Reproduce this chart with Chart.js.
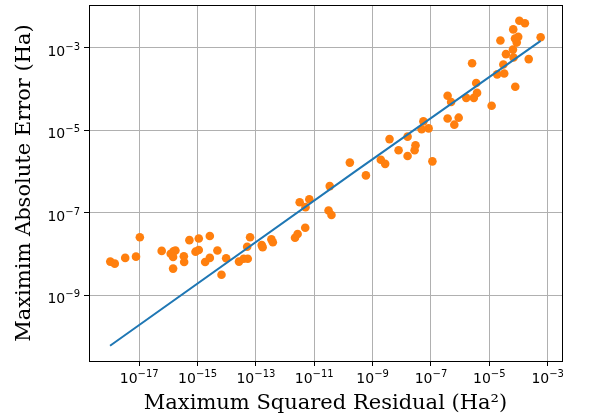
<!DOCTYPE html>
<html>
<head>
<meta charset="utf-8">
<script src="https://cdn.jsdelivr.net/npm/chart.js@4/dist/chart.umd.min.js"></script>
<style>
    html, body { margin: 0; padding: 0; background: #ffffff; }
    #chart { display: block; }
</style>
</head>
<body>
<canvas id="chart" width="589" height="417"></canvas>
<script>
// maximum squared residual (Ha^2) of each run
const residuals = [
    1.02e-18, 1.45e-18, 3.31e-18, 7.76e-18, 1.05e-17, 5.89e-17, 1.20e-16, 1.74e-16, 1.51e-16, 1.45e-16,
    1.45e-16, 3.39e-16, 3.47e-16, 5.25e-16, 1.10e-15, 2.63e-15, 8.51e-16, 1.10e-15, 1.82e-15, 2.63e-15,
    4.79e-15, 6.61e-15, 9.55e-15, 2.63e-14, 3.80e-14, 5.25e-14, 5.01e-14, 6.31e-14, 1.58e-13, 1.70e-13,
    3.39e-13, 3.80e-13, 2.19e-12, 2.69e-12, 4.90e-12, 3.16e-12, 5.01e-12, 6.76e-12, 3.09e-11, 3.89e-11,
    3.39e-11, 1.66e-10, 5.89e-10, 1.91e-9, 2.69e-9, 3.80e-9, 7.76e-9, 1.58e-8, 1.58e-8, 2.95e-8,
    2.75e-8, 5.50e-8, 4.79e-8, 8.32e-8, 1.12e-7, 3.72e-7, 4.90e-7, 1.62e-6, 2.95e-6, 3.80e-6,
    1.20e-5, 3.72e-7, 6.31e-7, 8.91e-7, 3.55e-6, 2.57e-6, 1.86e-5, 3.24e-5, 3.02e-5, 7.76e-5,
    2.24e-4, 6.76e-5, 3.72e-5, 6.46e-5, 2.40e-5, 8.71e-5, 9.77e-5, 7.59e-5, 5.75e-4, 6.61e-5,
    1.07e-4, 1.66e-4
];

// maximum absolute error (Ha) of each run
const errors = [
    6.61e-9, 5.89e-9, 8.13e-9, 8.71e-9, 2.57e-8, 1.20e-8, 1.02e-8, 1.23e-8, 1.17e-8, 8.51e-9,
    4.47e-9, 8.91e-9, 6.46e-9, 2.19e-8, 2.40e-8, 2.75e-8, 1.15e-8, 1.26e-8, 6.46e-9, 8.13e-9,
    1.23e-8, 3.16e-9, 7.94e-9, 6.61e-9, 7.76e-9, 7.76e-9, 1.51e-8, 2.57e-8, 1.66e-8, 1.48e-8,
    2.29e-8, 1.95e-8, 2.51e-8, 3.09e-8, 4.37e-8, 1.82e-7, 1.38e-7, 2.14e-7, 1.15e-7, 8.91e-8,
    4.47e-7, 1.66e-6, 8.13e-7, 1.95e-6, 1.55e-6, 6.17e-6, 3.31e-6, 7.08e-6, 2.40e-6, 4.37e-6,
    3.31e-6, 1.66e-5, 1.07e-5, 1.12e-5, 1.78e-6, 6.92e-5, 4.90e-5, 6.17e-5, 6.17e-5, 8.13e-5,
    3.98e-5, 1.95e-5, 1.38e-5, 2.04e-5, 1.41e-4, 4.27e-4, 2.29e-4, 2.40e-4, 3.98e-4, 1.15e-4,
    5.37e-4, 5.89e-4, 7.08e-4, 9.12e-4, 1.51e-3, 1.35e-3, 1.86e-3, 1.70e-3, 1.82e-3, 2.82e-3,
    4.57e-3, 3.98e-3
];

// fitted trend line, read at both ends and the middle
const fitResiduals = [1.0e-18, 2.69e-10, 5.75e-4];
const fitErrors = [6.03e-11, 1.05e-6, 1.48e-3];

// axis ranges and tick positions
const xRange = [1.9e-19, 3.1e-3];
const yRange = [2.57e-11, 1.10e-2];
const xTicks = [1e-17, 1e-15, 1e-13, 1e-11, 1e-9, 1e-7, 1e-5, 1e-3];
const yTicks = [1e-9, 1e-7, 1e-5, 1e-3];

const baseFont = '14px "DejaVu Sans"';
const expFont = '10px "DejaVu Sans"';

function points(xs, ys) {
    return xs.map((x, i) => ({x: x, y: ys[i]}));
}

/**
 * Draws 10 with a raised exponent, like matplotlib's mathtext labels.
 *
 * @param {CanvasRenderingContext2D} ctx The context.
 * @param {number} value The tick value.
 * @param {number} x Anchor x (centre or right edge).
 * @param {number} baseline Baseline of the "10".
 * @param {string} align 'center' or 'right'.
 */
function drawPower(ctx, value, x, baseline, align) {
    let exponent = String(Math.round(Math.log10(value))).replace('-', '\u2212');
    ctx.font = baseFont;
    let baseWidth = ctx.measureText('10').width;
    ctx.font = expFont;
    let expWidth = ctx.measureText(exponent).width;
    let total = baseWidth + expWidth;
    let left = align === 'center' ? x - total / 2 : x - total;

    ctx.textAlign = 'left';
    ctx.textBaseline = 'alphabetic';
    ctx.font = baseFont;
    ctx.fillText('10', left, baseline);
    ctx.font = expFont;
    ctx.fillText(exponent, left + baseWidth, baseline - 6);
}

// box round the axes and the power-of-ten tick labels
const decorations = {
    id: 'decorations',
    afterDraw(chart) {
        let ctx = chart.ctx;
        let a = chart.chartArea;
        ctx.save();
        ctx.strokeStyle = '#000000';
        ctx.lineWidth = 1;
        ctx.strokeRect(Math.round(a.left) + 0.5, Math.round(a.top) + 0.5,
            Math.round(a.right - a.left), Math.round(a.bottom - a.top));

        ctx.fillStyle = '#000000';
        let xScale = chart.scales.x;
        xTicks.forEach(v => drawPower(ctx, v, xScale.getPixelForValue(v), a.bottom + 22, 'center'));
        let yScale = chart.scales.y;
        yTicks.forEach(v => drawPower(ctx, v, a.left - 9, yScale.getPixelForValue(v) + 8, 'right'));
        ctx.restore();
    }
};

const titleFont = {family: '"DejaVu Serif"', size: 21};

new Chart(document.getElementById('chart'), {
    data: {
        datasets: [
            {
                type: 'line',
                label: 'fit',
                data: points(fitResiduals, fitErrors),
                borderColor: '#1f77b4',
                borderWidth: 2,
                pointRadius: 0,
                fill: false,
                order: 0
            },
            {
                type: 'scatter',
                label: 'runs',
                data: points(residuals, errors),
                backgroundColor: '#ff7f0e',
                borderWidth: 0,
                pointRadius: 4.3,
                order: 1
            }
        ]
    },
    plugins: [decorations],
    options: {
        responsive: false,
        animation: false,
        layout: {
            padding: {left: 0, right: 27, top: 5, bottom: 0}
        },
        plugins: {
            legend: {display: false},
            tooltip: {enabled: false}
        },
        scales: {
            x: {
                type: 'logarithmic',
                position: 'bottom',
                min: xRange[0],
                max: xRange[1],
                afterBuildTicks: function (scale) {
                    scale.ticks = xTicks.map(v => ({value: v}));
                },
                afterFit: function (scale) {
                    scale.height = 56;
                },
                grid: {
                    color: '#b0b0b0',
                    lineWidth: 1,
                    tickColor: '#000000',
                    tickLength: 5
                },
                border: {color: '#000000'},
                ticks: {display: false},
                title: {
                    display: true,
                    text: 'Maximum Squared Residual (Ha\u00b2)',
                    color: '#000000',
                    font: titleFont,
                    padding: {top: 0, bottom: 1}
                }
            },
            y: {
                type: 'logarithmic',
                position: 'left',
                min: yRange[0],
                max: yRange[1],
                afterBuildTicks: function (scale) {
                    scale.ticks = yTicks.map(v => ({value: v}));
                },
                afterFit: function (scale) {
                    scale.width = 89;
                },
                grid: {
                    color: '#b0b0b0',
                    lineWidth: 1,
                    tickColor: '#000000',
                    tickLength: 5
                },
                border: {color: '#000000'},
                ticks: {display: false},
                title: {
                    display: true,
                    text: 'Maximim Absolute Error (Ha)',
                    color: '#000000',
                    font: titleFont,
                    padding: {top: 12, bottom: 0}
                }
            }
        }
    }
});
</script>
</body>
</html>
